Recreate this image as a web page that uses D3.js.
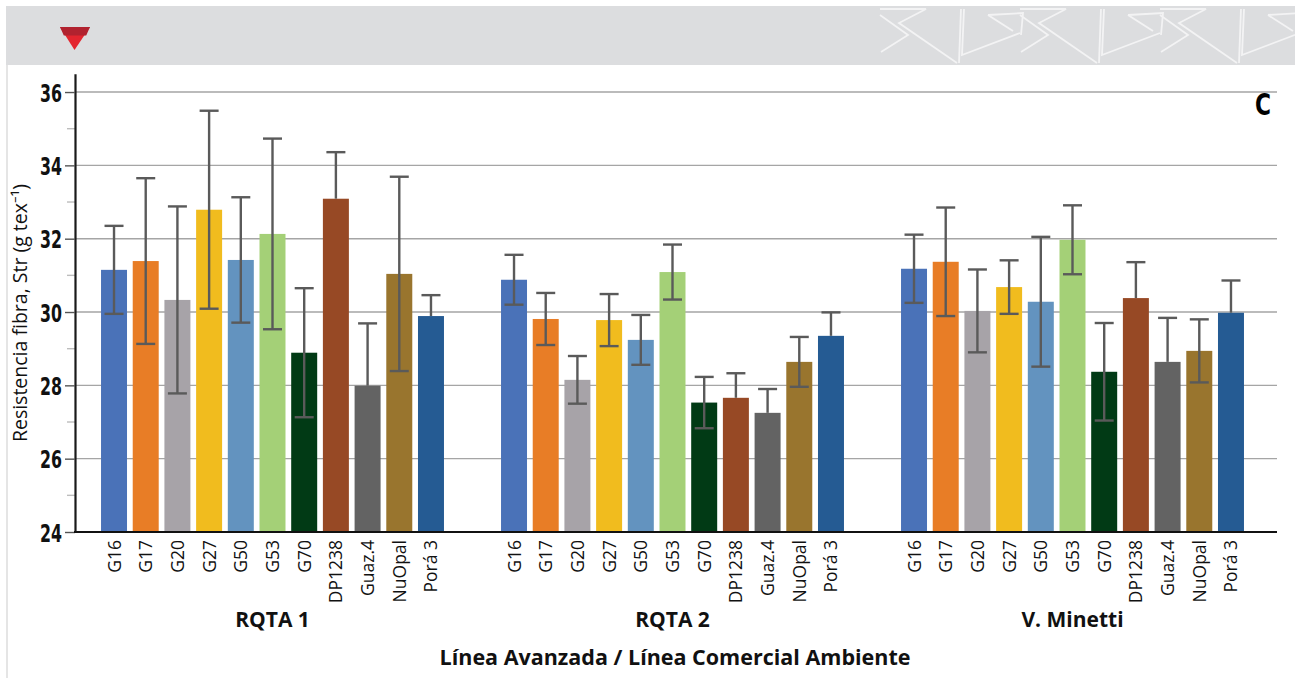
<!DOCTYPE html>
<html>
<head>
<meta charset="utf-8">
<script src="https://cdn.jsdelivr.net/npm/d3@7"></script>
<style>
  html, body { margin: 0; padding: 0; background: #ffffff; }
  svg { display: block; }
</style>
</head>
<body>
<svg id="chart" width="1295" height="678"></svg>
<script>
// ---------------- DATA ----------------
const groups = ["RQTA 1", "RQTA 2", "V. Minetti"];
const genotypes = ["G16", "G17", "G20", "G27", "G50", "G53", "G70", "DP1238", "Guaz.4", "NuOpal", "Porá 3"];
const genotypeColors = ["#4a72b8", "#e87d26", "#a7a3a8", "#f1bc1e", "#6393bf", "#a4d077", "#013a15", "#974925", "#636363", "#99752e", "#255b93"];

const meanRQTA1   = [31.15, 31.39, 30.33, 32.79, 31.42, 32.13, 28.89, 33.09, 27.99, 31.04, 29.89];
const errRQTA1    = [1.20, 2.26, 2.55, 2.70, 1.71, 2.60, 1.76, 1.27, 1.70, 2.65, 0.57];
const meanRQTA2   = [30.88, 29.81, 28.15, 29.78, 29.24, 31.09, 27.53, 27.66, 27.25, 28.64, 29.35];
const errRQTA2    = [0.68, 0.71, 0.65, 0.71, 0.68, 0.75, 0.70, 0.67, 0.65, 0.68, 0.64];
const meanMinetti = [31.18, 31.37, 30.03, 30.68, 30.28, 31.97, 28.37, 30.38, 28.64, 28.94, 29.98];
const errMinetti  = [0.93, 1.48, 1.13, 0.73, 1.77, 0.94, 1.33, 0.98, 1.20, 0.86, 0.88];

// commercial checks only show the upper error whisker
const upperOnly = ["DP1238", "Guaz.4", "Porá 3"];

const yMajorTicks = [24, 26, 28, 30, 32, 34, 36];
const yMinorTicks = [25, 27, 29, 31, 33, 35];
const yLabel = "Resistencia fibra, Str (g tex⁻¹)";
const xTitle = "Línea Avanzada / Línea Comercial Ambiente";
const panelLetter = "C";

// ---------------- BUILD ----------------
const means = [meanRQTA1, meanRQTA2, meanMinetti];
const errs = [errRQTA1, errRQTA2, errMinetti];
const rows = [];
groups.forEach((g, gi) => {
  genotypes.forEach((c, ci) => {
    rows.push({ group: g, geno: c, value: means[gi][ci], err: errs[gi][ci], color: genotypeColors[ci] });
  });
});

const svg = d3.select("#chart");
const sans = "'Open Sans', 'Noto Sans', sans-serif";
const condensed = "'DejaVu Sans Condensed', 'DejaVu Sans', sans-serif";

// header band
svg.append("rect").attr("x", 6).attr("y", 6).attr("width", 1289).attr("height", 59).attr("fill", "#dcdddf");
svg.append("line").attr("x1", 7).attr("x2", 7).attr("y1", 65).attr("y2", 678)
  .attr("stroke", "#dcdcdc").attr("stroke-width", 1.5);

// red triangle marker
svg.append("path").attr("d", "M60,27 L90,27 L74.5,50 Z").attr("fill", "#e3252f");
svg.append("path").attr("d", "M60,27 L90,27 L86.2,35.5 L63.8,35.5 Z").attr("fill", "#b1222f");

// decorative header motif
const defs = svg.append("defs");
defs.append("clipPath").attr("id", "hdrclip").append("rect")
  .attr("x", 6).attr("y", 6).attr("width", 1289).attr("height", 59);
const deco = svg.append("g").attr("clip-path", "url(#hdrclip)")
  .attr("fill", "none").attr("stroke", "#f3f3f4").attr("stroke-width", 1.8).attr("stroke-linejoin", "miter");
const motif = [
  [[0, 9], [46, 9], [19, 23], [77, 63]],
  [[0, 15], [28, 35], [1, 52]],
  [[81, 9], [79, 63]],
  [[84, 9], [82, 55], [140, 33]],
  [[108, 15], [143, 13], [141, 35]],
  [[108, 15], [133, 31]]
];
[880, 1020, 1160].forEach(x0 => {
  motif.forEach(pl => {
    deco.append("path").attr("d", d3.line()(pl.map(p => [x0 + p[0], p[1]])));
  });
});

// scales
const x0 = d3.scaleBand().domain(groups).range([72.5, 1272.5]).padding(0);
const x1 = d3.scaleBand().domain(genotypes).range([0, x0.bandwidth()]).paddingInner(0.18).paddingOuter(0.9);
const y = d3.scaleLinear().domain([24, 36.5]).range([532, 73.7]);

const plotLeft = 75, plotRight = 1277;

// gridlines
svg.append("g").selectAll("line").data(yMajorTicks.filter(t => t > 24)).join("line")
  .attr("x1", plotLeft).attr("x2", plotRight)
  .attr("y1", d => y(d)).attr("y2", d => y(d))
  .attr("stroke", "#a5a5a5").attr("stroke-width", 1.4);

// minor ticks
svg.append("g").selectAll("line").data(yMinorTicks).join("line")
  .attr("x1", 67).attr("x2", plotLeft)
  .attr("y1", d => y(d)).attr("y2", d => y(d))
  .attr("stroke", "#bdbdbd").attr("stroke-width", 1.4);

// bars
const gGroups = svg.append("g").selectAll("g").data(groups).join("g")
  .attr("transform", d => `translate(${x0(d)},0)`);

gGroups.selectAll("rect").data(g => rows.filter(r => r.group === g)).join("rect")
  .attr("x", d => x1(d.geno))
  .attr("width", x1.bandwidth())
  .attr("y", d => y(d.value))
  .attr("height", d => y(24) - y(d.value))
  .attr("fill", d => d.color);

// error bars
const eb = gGroups.selectAll("g.err").data(g => rows.filter(r => r.group === g)).join("g")
  .attr("class", "err")
  .attr("stroke", "#5a5a5a").attr("stroke-width", 2.4);
const capHalf = 9.5;
eb.append("line")
  .attr("x1", d => x1(d.geno) + x1.bandwidth() / 2)
  .attr("x2", d => x1(d.geno) + x1.bandwidth() / 2)
  .attr("y1", d => y(d.value + d.err))
  .attr("y2", d => upperOnly.includes(d.geno) ? y(d.value) : y(d.value - d.err));
eb.append("line")
  .attr("x1", d => x1(d.geno) + x1.bandwidth() / 2 - capHalf)
  .attr("x2", d => x1(d.geno) + x1.bandwidth() / 2 + capHalf)
  .attr("y1", d => y(d.value + d.err))
  .attr("y2", d => y(d.value + d.err));
eb.filter(d => !upperOnly.includes(d.geno)).append("line")
  .attr("x1", d => x1(d.geno) + x1.bandwidth() / 2 - capHalf)
  .attr("x2", d => x1(d.geno) + x1.bandwidth() / 2 + capHalf)
  .attr("y1", d => y(d.value - d.err))
  .attr("y2", d => y(d.value - d.err));

// y axis
const yAxis = d3.axisLeft(y).tickValues(yMajorTicks).tickSize(10).tickSizeOuter(0).tickPadding(3);
const ya = svg.append("g").attr("transform", `translate(${plotLeft},0)`).call(yAxis);
ya.select(".domain").attr("stroke", "#1a1a1a").attr("stroke-width", 2.2);
ya.selectAll(".tick line").attr("stroke", "#555").attr("stroke-width", 1.4);
ya.selectAll(".tick text")
  .attr("font-family", condensed)
  .attr("font-weight", "bold").attr("font-size", 25).attr("fill", "#111")
  .attr("dy", "0.36em")
  .attr("textLength", 22).attr("lengthAdjust", "spacingAndGlyphs");

// x axis line
svg.append("line").attr("x1", plotLeft - 1).attr("x2", plotRight)
  .attr("y1", y(24)).attr("y2", y(24))
  .attr("stroke", "#111").attr("stroke-width", 2.2);

// x category labels
gGroups.selectAll("text.cat").data(genotypes).join("text")
  .attr("class", "cat")
  .attr("transform", d => `translate(${x1(d) + x1.bandwidth() / 2 + 6.5},540) rotate(-90)`)
  .attr("text-anchor", "end")
  .attr("font-family", sans)
  .attr("font-size", 17.5).attr("fill", "#111")
  .text(d => d);

// group labels
svg.append("g").selectAll("text").data(groups).join("text")
  .attr("x", d => x0(d) + x0.bandwidth() / 2)
  .attr("y", 627)
  .attr("text-anchor", "middle")
  .attr("font-family", sans)
  .attr("font-weight", "bold").attr("font-size", 21).attr("fill", "#111")
  .text(d => d);

// x title
svg.append("text").attr("x", 675).attr("y", 665).attr("text-anchor", "middle")
  .attr("font-family", sans)
  .attr("font-weight", "bold").attr("font-size", 21.5).attr("fill", "#111")
  .text(xTitle);

// y label
svg.append("text").attr("transform", "translate(27,313) rotate(-90)")
  .attr("text-anchor", "middle")
  .attr("font-family", sans)
  .attr("font-size", 19.5).attr("fill", "#111")
  .text(yLabel);

// panel letter
svg.append("text").attr("x", 1255).attr("y", 115)
  .attr("font-family", condensed)
  .attr("font-weight", "bold").attr("font-size", 31).attr("fill", "#000")
  .attr("textLength", 16).attr("lengthAdjust", "spacingAndGlyphs")
  .text(panelLetter);
</script>
</body>
</html>
